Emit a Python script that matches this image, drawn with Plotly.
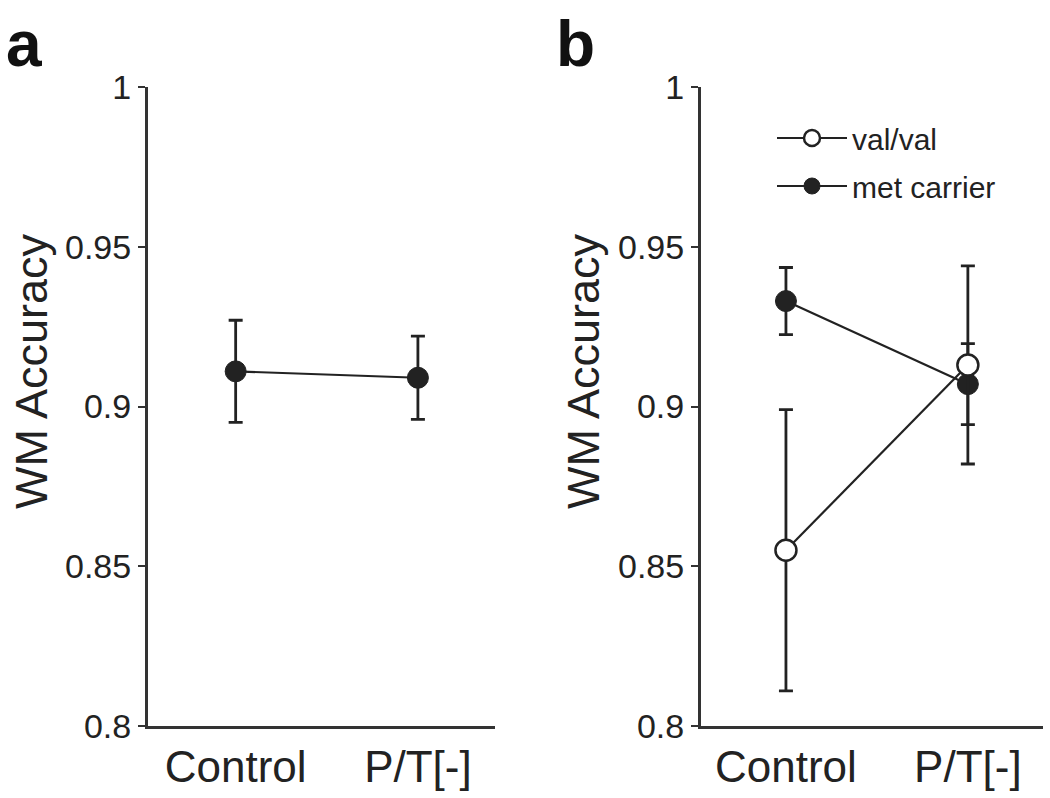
import plotly.graph_objects as go

# ---- data ----
categories = ["Control", "P/T[-]"]
ytick_vals = [0.8, 0.85, 0.9, 0.95, 1.0]
ytick_text = ["0.8", "0.85", "0.9", "0.95", "1"]

# panel a : all subjects
all_mean = [0.911, 0.909]
all_err = [0.016, 0.013]

# panel b : by genotype
valval_mean = [0.855, 0.913]
valval_err = [0.044, 0.031]
met_mean = [0.933, 0.907]
met_err = [0.0105, 0.0127]

FONT = "Liberation Sans, Arial, Helvetica, sans-serif"
INK = "#222222"

W, H = 1050, 798


def px_x(p):
    return p / W


def px_y(p):
    return 1 - p / H


fig = go.Figure()

# panel a
fig.add_trace(go.Scatter(
    x=categories, y=all_mean, mode="lines+markers",
    line=dict(color=INK, width=2.2),
    marker=dict(size=21, color=INK, line=dict(color=INK, width=1)),
    error_y=dict(type="data", array=all_err, color=INK, thickness=2.8, width=7),
    xaxis="x", yaxis="y", showlegend=False, cliponaxis=False,
))

# panel b (met carrier first so val/val open circles sit on top)
fig.add_trace(go.Scatter(
    x=categories, y=met_mean, mode="lines+markers", name="met carrier",
    line=dict(color=INK, width=2.2),
    marker=dict(size=21, color=INK, line=dict(color=INK, width=1)),
    error_y=dict(type="data", array=met_err, color=INK, thickness=2.8, width=7),
    xaxis="x2", yaxis="y2", legendrank=2, legendgroup="met", cliponaxis=False,
))
fig.add_trace(go.Scatter(
    x=categories, y=valval_mean, mode="lines+markers", name="val/val",
    line=dict(color=INK, width=2.2),
    marker=dict(size=21, color="white", line=dict(color=INK, width=2.5)),
    error_y=dict(type="data", array=valval_err, color=INK, thickness=2.8, width=7),
    xaxis="x2", yaxis="y2", legendrank=1, legendgroup="val", cliponaxis=False,
))

ydom = [px_y(726), px_y(87)]

xcommon = dict(
    type="category", showline=True, linecolor="#333333", linewidth=3,
    ticks="", showgrid=False, zeroline=False, automargin=False,
    tickfont=dict(family=FONT, size=44, color=INK),
)
ycommon = dict(
    range=[0.8, 1.0], tickvals=ytick_vals, ticktext=ytick_text,
    showline=True, linecolor="#333333", linewidth=3,
    ticks="outside", ticklen=7, tickwidth=2, tickcolor="#333333",
    showgrid=False, zeroline=False, automargin=False,
    tickfont=dict(family=FONT, size=34, color=INK),
)

fig.update_layout(
    width=W, height=H,
    margin=dict(l=0, r=0, t=0, b=0, autoexpand=False),
    paper_bgcolor="white", plot_bgcolor="white",
    xaxis=dict(xcommon, domain=[px_x(148), px_x(495)], range=[-0.481, 1.423], anchor="y"),
    yaxis=dict(ycommon, domain=ydom, anchor="x"),
    xaxis2=dict(xcommon, domain=[px_x(701), px_x(1043)], range=[-0.467, 1.413], anchor="y2"),
    yaxis2=dict(ycommon, domain=ydom, anchor="x2"),
    showlegend=True,
    legend=dict(
        x=px_x(772), y=px_y(112), xanchor="left", yanchor="top",
        font=dict(family=FONT, size=30, color=INK),
        bgcolor="rgba(0,0,0,0)", itemwidth=70, tracegroupgap=6,
    ),
    annotations=[
        dict(text="WM Accuracy", textangle=-90, x=px_x(31), y=px_y(371),
             xanchor="center", yanchor="middle",
             xref="paper", yref="paper", showarrow=False,
             font=dict(family=FONT, size=45, color=INK)),
        dict(text="WM Accuracy", textangle=-90, x=px_x(583), y=px_y(371),
             xanchor="center", yanchor="middle",
             xref="paper", yref="paper", showarrow=False,
             font=dict(family=FONT, size=45, color=INK)),
        dict(text="<b>a</b>", x=px_x(4), y=px_y(6), xanchor="left", yanchor="top",
             xref="paper", yref="paper", showarrow=False,
             font=dict(family=FONT, size=64, color="#111111")),
        dict(text="<b>b</b>", x=px_x(554), y=px_y(6), xanchor="left", yanchor="top",
             xref="paper", yref="paper", showarrow=False,
             font=dict(family=FONT, size=64, color="#111111")),
    ],
)

fig.write_html(
    "out.html",
    config={"displayModeBar": False},
    post_script="document.body.style.margin='0';document.body.style.overflow='hidden';",
)
